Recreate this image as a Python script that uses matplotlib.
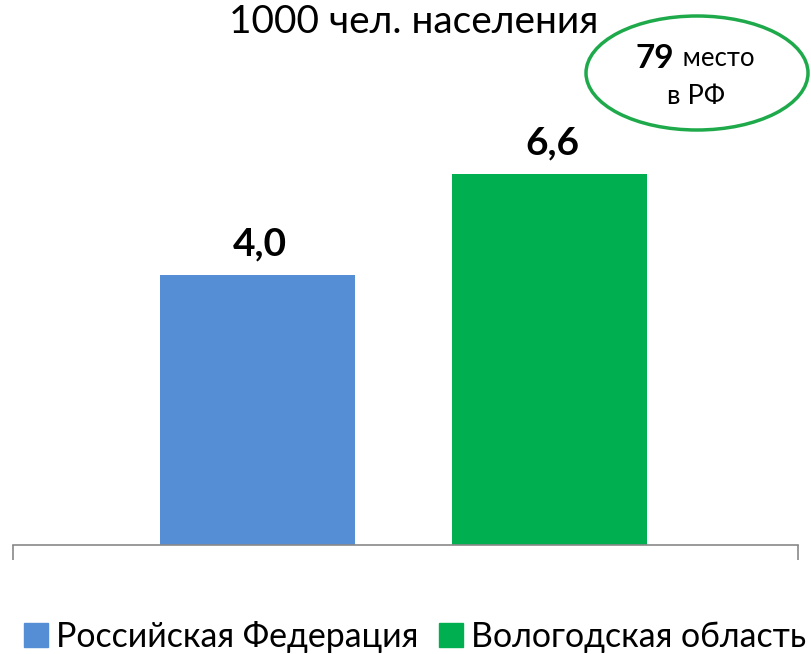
import matplotlib
matplotlib.use("Agg")
import matplotlib.pyplot as plt
from matplotlib.patches import Ellipse, Patch

plt.rcParams['font.family'] = ['Lato', 'DejaVu Sans']

series = ["Российская Федерация", "Вологодская область"]
values = [4.0, 6.6]
labels = ["4,0", "6,6"]
colors = ["#558ED5", "#00B050"]
title = "1000 чел. населения"
rank_num = "79"
rank_word = " место"
rank_line2 = "в РФ"

W, H = 811, 654
fig = plt.figure(figsize=(W / 100, H / 100), dpi=100)
ax = fig.add_axes([13 / W, 1 - 545 / H, 785 / W, 515 / H])

ax.set_yscale('log')
xs = [0, 1]
bars = ax.bar(xs, values, width=0.668, color=colors)
ax.set_ylim(1.05, 13.5)
xl = (-0.837, 1.851)
ax.set_xlim(*xl)

for x, v, lab in zip(xs, values, labels):
    ax.annotate(lab, (x, v), xytext=(2, 10), textcoords='offset points',
                ha='center', va='bottom', fontsize=28, fontweight='bold')

for s in ['top', 'right', 'left']:
    ax.spines[s].set_visible(False)
ax.spines['bottom'].set_color('#898989')
ax.spines['bottom'].set_linewidth(1.2)
ax.set_yticks([])
ax.yaxis.set_minor_locator(matplotlib.ticker.NullLocator())
ax.set_xticks(list(xl))
ax.set_xticklabels([])
ax.tick_params(axis='x', direction='out', length=11, width=1.2, color='#898989')

fig.text(414 / W, 1 - 22 / H, title, ha='center', va='center', fontsize=28)

ell = Ellipse((697 / W, 1 - 73 / H), 222 / W, 114 / H, transform=fig.transFigure,
              fill=False, edgecolor='#1EAA4B', linewidth=2.5)
fig.add_artist(ell)
fig.text(674 / W, 1 - 59 / H, rank_num, ha='right', va='center', fontsize=24, fontweight='bold')
fig.text(676 / W, 1 - 59 / H, rank_word, ha='left', va='center', fontsize=18.5)
fig.text(696 / W, 1 - 96 / H, rank_line2, ha='center', va='center', fontsize=19.5)

handles = [Patch(color=c, label=s) for c, s in zip(colors, series)]
fig.legend(handles=handles, loc='center', bbox_to_anchor=(415 / W, 1 - 637 / H),
           ncol=2, frameon=False, fontsize=24.4, handlelength=0.7, handleheight=0.7,
           handletextpad=0.25, columnspacing=0.6, borderpad=0, borderaxespad=0)

fig.savefig("out.png", dpi=100)
